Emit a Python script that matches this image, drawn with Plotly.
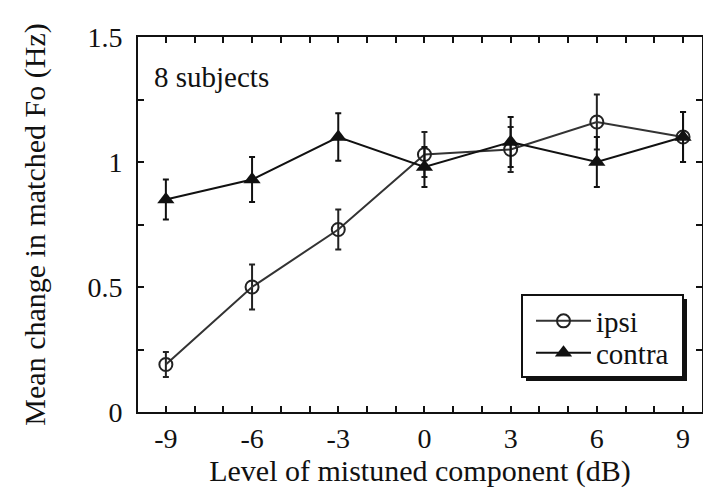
import plotly.graph_objects as go

levels = [-9, -6, -3, 0, 3, 6, 9]
ipsi = [0.19, 0.50, 0.73, 1.03, 1.05, 1.16, 1.10]
ipsi_err = [0.05, 0.09, 0.08, 0.09, 0.09, 0.11, 0.10]
contra = [0.85, 0.93, 1.10, 0.98, 1.08, 1.00, 1.10]
contra_err = [0.08, 0.09, 0.095, 0.08, 0.10, 0.10, 0.10]
xtick_vals = list(range(-10, 11))
xtick_text = [str(v) if v % 3 == 0 else "" for v in xtick_vals]
ytick_vals = [0, 0.25, 0.5, 0.75, 1, 1.25, 1.5]
ytick_text = ["0", "", "0.5", "", "1", "", "1.5"]

FONT = "Liberation Serif"

fig = go.Figure()
fig.add_trace(go.Scatter(
    x=levels, y=ipsi, name="ipsi", mode="lines+markers", legend="legend",
    line=dict(color="#333333", width=2),
    marker=dict(symbol="circle-open", size=13, color="#222222", line=dict(width=2)),
    error_y=dict(type="data", array=ipsi_err, color="#222222", thickness=2, width=3),
))
fig.add_trace(go.Scatter(
    x=levels, y=contra, name="contra", mode="lines+markers", legend="legend2",
    line=dict(color="#111111", width=2),
    marker=dict(symbol="triangle-up", size=15, color="#111111"),
    error_y=dict(type="data", array=contra_err, color="#111111", thickness=2, width=3),
))

fig.add_annotation(x=-9.5, y=1.34, xref="x", yref="y", text="8 subjects",
                   showarrow=False, xanchor="left", yanchor="middle",
                   font=dict(family=FONT, size=29, color="#111"))

# legend box with shadow (paper coords from pixel positions)
L, T, W, H = 138, 37, 564, 375
def px(xp):
    return (xp - L) / W
def py(yp):
    return (T + H - yp) / H
fig.add_shape(type="rect", xref="paper", yref="paper",
              x0=px(526), x1=px(687), y0=py(381), y1=py(299),
              fillcolor="#111", line=dict(width=0), layer="above")
fig.add_shape(type="rect", xref="paper", yref="paper",
              x0=px(522), x1=px(683), y0=py(377), y1=py(295),
              fillcolor="white", line=dict(color="#111", width=2), layer="above")

leg_common = dict(xanchor="left", yanchor="middle", bgcolor="rgba(0,0,0,0)", borderwidth=0,
                  font=dict(family=FONT, size=29, color="#111"), itemwidth=55)

fig.update_layout(
    width=703, height=495,
    margin=dict(l=138, r=1, t=37, b=83),
    paper_bgcolor="white", plot_bgcolor="white",
    font=dict(family=FONT, color="#111"),
    showlegend=True,
    legend=dict(x=px(531), y=py(321), **leg_common),
    legend2=dict(x=px(531), y=py(353), **leg_common),
    xaxis=dict(range=[-9.97, 9.66], tickmode="array", tickvals=xtick_vals, ticktext=xtick_text,
               ticks="inside", ticklen=6, tickwidth=1.5, tickcolor="#111",
               showline=True, linecolor="#111", linewidth=2, mirror="ticks",
               showgrid=False, zeroline=False, automargin=False,
               tickfont=dict(family=FONT, size=28, color="#111"),
               title=dict(text="Level of mistuned component (dB)",
                          font=dict(family=FONT, size=30, color="#111"), standoff=6)),
    yaxis=dict(range=[0, 1.5], tickmode="array", tickvals=ytick_vals, ticktext=ytick_text,
               ticks="inside", ticklen=6, tickwidth=1.5, tickcolor="#111",
               ticklabelstandoff=8,
               showline=True, linecolor="#111", linewidth=2, mirror="ticks",
               showgrid=False, zeroline=False, automargin=False,
               tickfont=dict(family=FONT, size=28, color="#111"),
               title=dict(text="Mean change in matched Fo (Hz)",
                          font=dict(family=FONT, size=30, color="#111"), standoff=33)),
)

fig.write_html("out.html", config={"displayModeBar": False},
               post_script="document.body.style.margin='0';document.body.style.overflow='hidden';")
